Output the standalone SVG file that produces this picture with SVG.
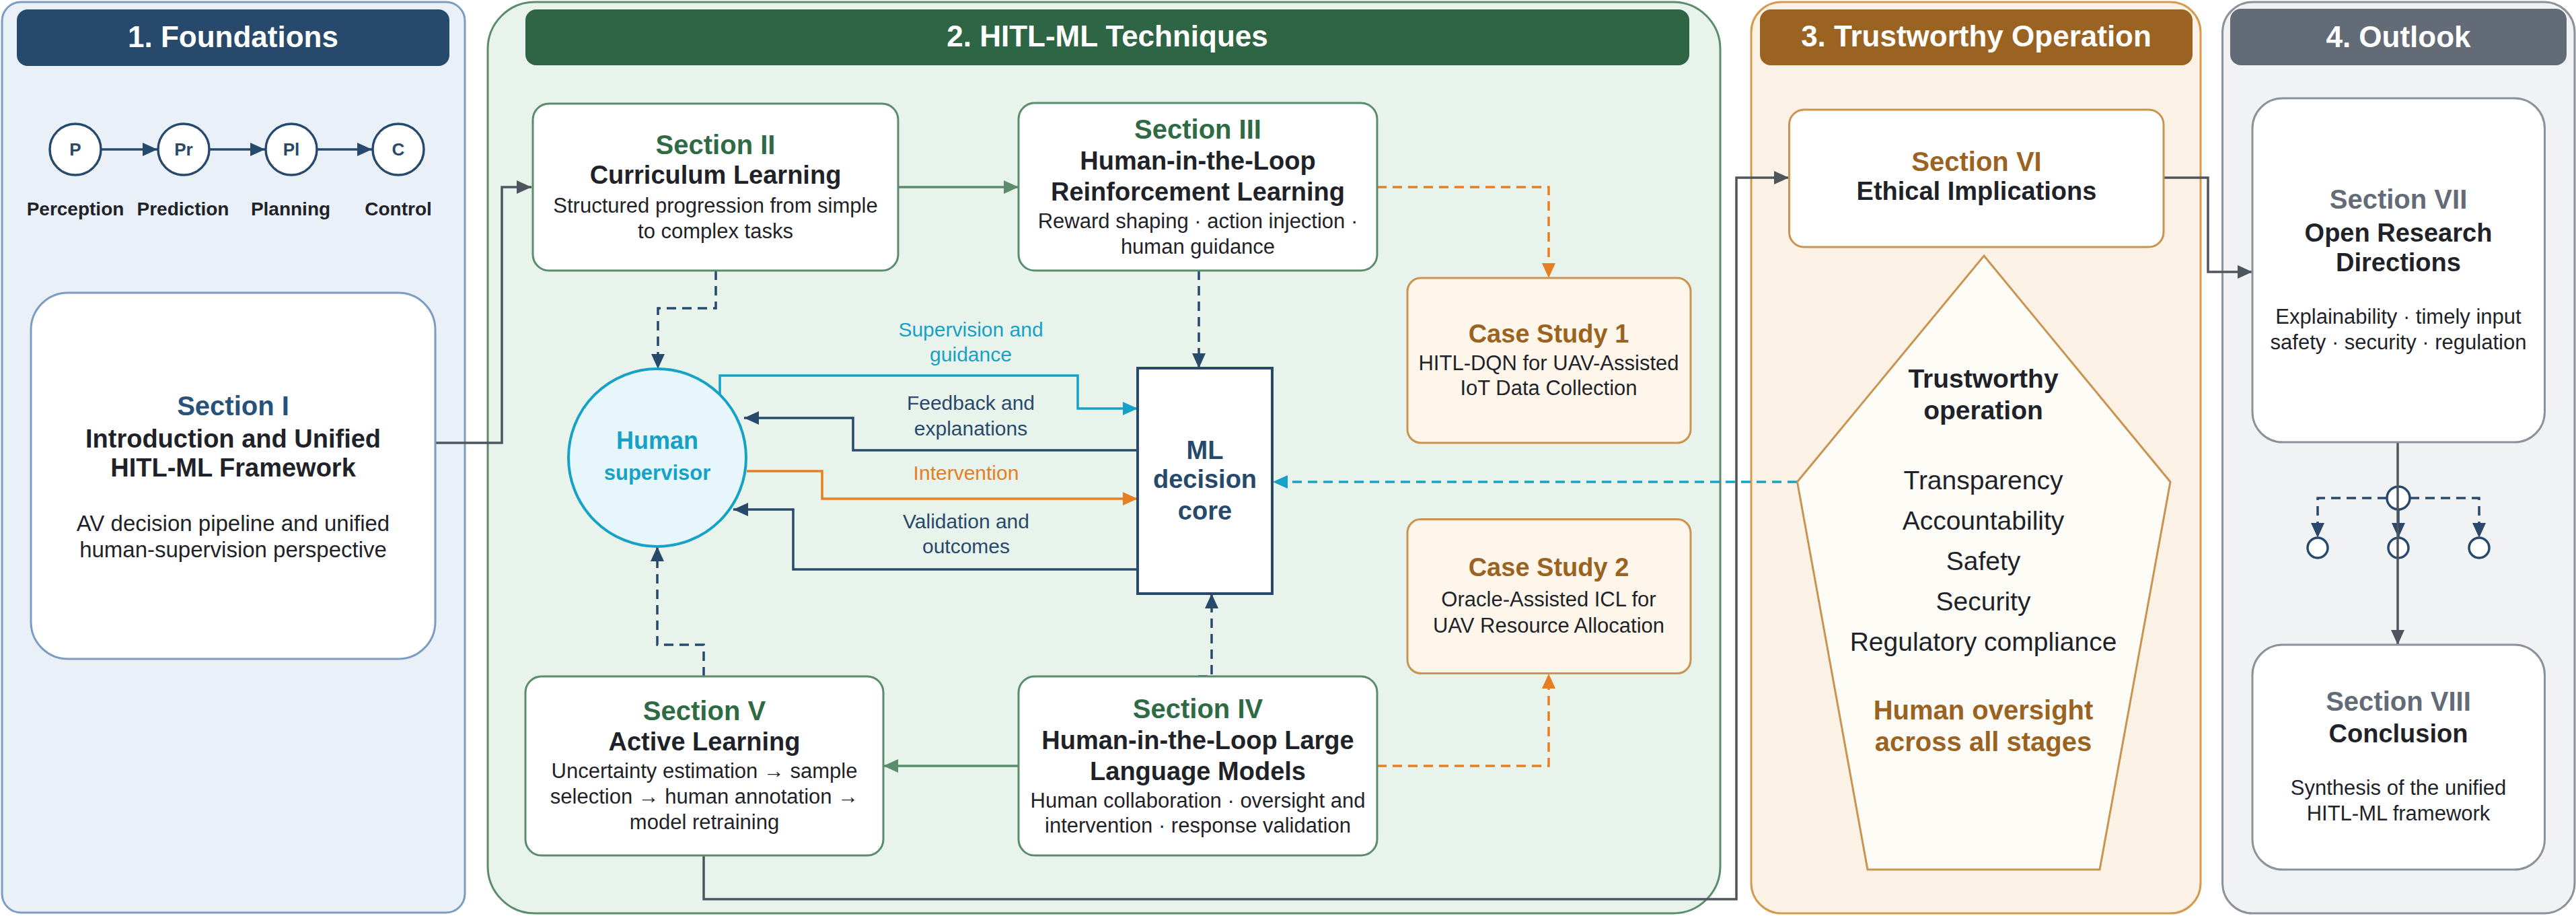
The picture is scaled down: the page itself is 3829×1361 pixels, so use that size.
<svg xmlns="http://www.w3.org/2000/svg" width="3829" height="1361" viewBox="0 0 3829 1361">
<style>
text{font-family:"Liberation Sans",Arial,sans-serif;text-anchor:middle;fill:#1f2329}
.hd{font-size:44px;font-weight:bold;fill:#fff}
.lb{font-size:40px;font-weight:bold}
.tt{font-size:38px;font-weight:bold}
.ds{font-size:31px}
.cl{font-size:30px}
.box{fill:#fff;stroke-width:3}
.g{stroke:#5b8c6c}
.c{fill:none;stroke-width:3.5}
.d{stroke-dasharray:14 9}
</style>
<defs>
<marker id="mNavy" markerUnits="userSpaceOnUse" viewBox="0 0 22 20" markerWidth="22" markerHeight="20" refX="22" refY="10" orient="auto"><path d="M0,0L22,10L0,20z" fill="#27496b"/></marker>
<marker id="mCyan" markerUnits="userSpaceOnUse" viewBox="0 0 22 20" markerWidth="22" markerHeight="20" refX="22" refY="10" orient="auto"><path d="M0,0L22,10L0,20z" fill="#16a1c7"/></marker>
<marker id="mOrange" markerUnits="userSpaceOnUse" viewBox="0 0 22 20" markerWidth="22" markerHeight="20" refX="22" refY="10" orient="auto"><path d="M0,0L22,10L0,20z" fill="#e67e22"/></marker>
<marker id="mGray" markerUnits="userSpaceOnUse" viewBox="0 0 22 20" markerWidth="22" markerHeight="20" refX="22" refY="10" orient="auto"><path d="M0,0L22,10L0,20z" fill="#4f555d"/></marker>
<marker id="mGreen" markerUnits="userSpaceOnUse" viewBox="0 0 22 20" markerWidth="22" markerHeight="20" refX="22" refY="10" orient="auto"><path d="M0,0L22,10L0,20z" fill="#5b8c6c"/></marker>
</defs>

<g id="panel1">
<rect x="3" y="3" width="688" height="1353" rx="28" fill="#e9f0f8" stroke="#7b9cc4" stroke-width="3"/>
<rect x="25" y="14" width="643" height="84" rx="16" fill="#27496b"/>
<text class="hd" x="346.5" y="70">1. Foundations</text>
</g>
<g id="panel2">
<rect x="725" y="3" width="1832" height="1354" rx="70" fill="#e8f3ec" stroke="#5b8c6c" stroke-width="3"/>
<rect x="781" y="14" width="1730" height="83" rx="16" fill="#2e6645"/>
<text class="hd" x="1646" y="69">2. HITL-ML Techniques</text>
</g>
<g id="panel3">
<rect x="2603" y="3" width="668" height="1354" rx="45" fill="#fbf1e4" stroke="#d49b4f" stroke-width="3"/>
<rect x="2616" y="14" width="643" height="83" rx="16" fill="#9a6321"/>
<text class="hd" x="2937.5" y="69">3. Trustworthy Operation</text>
</g>
<g id="panel4">
<rect x="3303.5" y="3" width="523.5" height="1354" rx="45" fill="#f1f2f4" stroke="#8c929b" stroke-width="3"/>
<rect x="3315" y="13" width="500" height="84" rx="16" fill="#636b77"/>
<text class="hd" x="3565" y="70">4. Outlook</text>
</g>

<g id="pipeline">
<g fill="#fff" stroke="#27496b" stroke-width="3.5">
<circle cx="112" cy="222" r="38"/><circle cx="273" cy="222" r="38"/><circle cx="433" cy="222" r="38"/><circle cx="592" cy="222" r="38"/>
</g>
<g stroke="#27496b" stroke-width="3.5" fill="none">
<path d="M151,222H234" marker-end="url(#mNavy)"/>
<path d="M312,222H394" marker-end="url(#mNavy)"/>
<path d="M472,222H553" marker-end="url(#mNavy)"/>
</g>
<g font-size="26" font-weight="bold">
<text x="112" y="231" style="fill:#27496b">P</text>
<text x="273" y="231" style="fill:#27496b">Pr</text>
<text x="433" y="231" style="fill:#27496b">Pl</text>
<text x="592" y="231" style="fill:#27496b">C</text>
</g>
<g font-size="28" font-weight="bold">
<text x="112" y="320">Perception</text>
<text x="272" y="320">Prediction</text>
<text x="432" y="320">Planning</text>
<text x="592" y="320">Control</text>
</g>
</g>

<g id="connectors">
<path class="c" stroke="#4f555d" d="M647,658H746V278H790" marker-end="url(#mGray)"/>
<path class="c" stroke="#5b8c6c" d="M1335,278H1514" marker-end="url(#mGreen)"/>
<path class="c d" stroke="#e67e22" d="M2047,278H2302V413" marker-end="url(#mOrange)"/>
<path class="c d" stroke="#27496b" d="M1782,402V547" marker-end="url(#mNavy)"/>
<path class="c d" stroke="#27496b" d="M1064,402V458H978V548" marker-end="url(#mNavy)"/>
<path class="c" stroke="#16a1c7" d="M1070,586V558H1602V607H1691" marker-end="url(#mCyan)"/>
<path class="c" stroke="#27496b" d="M1691,669H1268V621H1106" marker-end="url(#mNavy)"/>
<path class="c" stroke="#e67e22" d="M1110,700H1222V741H1691" marker-end="url(#mOrange)"/>
<path class="c" stroke="#27496b" d="M1691,846H1179V757H1090" marker-end="url(#mNavy)"/>
<path class="c d" stroke="#27496b" d="M1046,1005V958H977V812" marker-end="url(#mNavy)"/>
<path class="c" stroke="#5b8c6c" d="M1514,1138H1313" marker-end="url(#mGreen)"/>
<path class="c d" stroke="#27496b" d="M1781,1005H1801V882" marker-end="url(#mNavy)"/>
<path class="c d" stroke="#e67e22" d="M2047,1138H2302V1001" marker-end="url(#mOrange)"/>
<path class="c d" stroke="#16a1c7" d="M2671,716H1892" marker-end="url(#mCyan)"/>
<path class="c" stroke="#4f555d" d="M1046,1271V1336H2581V264H2659" marker-end="url(#mGray)"/>
<path class="c" stroke="#4f555d" d="M3216,264H3282V404H3348" marker-end="url(#mGray)"/>
<g id="branch-icon">
<circle cx="3565" cy="740" r="17" fill="#fff" stroke="#27496b" stroke-width="3.5"/>
<circle cx="3445" cy="814" r="15" fill="#fff" stroke="#27496b" stroke-width="3.5"/>
<circle cx="3565" cy="814" r="15" fill="#fff" stroke="#27496b" stroke-width="3.5"/>
<circle cx="3685" cy="814" r="15" fill="#fff" stroke="#27496b" stroke-width="3.5"/>
<path class="c d" stroke="#27496b" d="M3548,740H3445V799" marker-end="url(#mNavy)"/>
<path class="c d" stroke="#27496b" d="M3582,740H3685V799" marker-end="url(#mNavy)"/>
<path class="c" stroke="#27496b" d="M3565,757V799" marker-end="url(#mNavy)"/>
</g>
<path class="c" stroke="#4f555d" d="M3564,657V958" marker-end="url(#mGray)"/>
<g class="cl">
<text x="1443" y="500" style="fill:#16a1c7">Supervision and</text>
<text x="1443" y="537" style="fill:#16a1c7">guidance</text>
<text x="1443" y="609" style="fill:#27496b">Feedback and</text>
<text x="1443" y="647" style="fill:#27496b">explanations</text>
<text x="1436" y="713" style="fill:#e67e22">Intervention</text>
<text x="1436" y="785" style="fill:#27496b">Validation and</text>
<text x="1436" y="822" style="fill:#27496b">outcomes</text>
</g>
</g>

<g id="section1">
<rect class="box" x="46" y="435" width="601" height="544" rx="55" stroke="#7b9cc4"/>
<text class="lb" x="346.5" y="617" style="fill:#27527a">Section I</text>
<text class="tt" x="346.5" y="665">Introduction and Unified</text>
<text class="tt" x="346.5" y="708">HITL-ML Framework</text>
<text x="346.5" y="789" font-size="33">AV decision pipeline and unified</text>
<text x="346.5" y="828" font-size="33">human-supervision perspective</text>
</g>
<g id="section2">
<rect class="box g" x="792" y="154" width="543" height="248" rx="24"/>
<text class="lb" x="1063.5" y="229" style="fill:#2e6b45">Section II</text>
<text class="tt" x="1063.5" y="273">Curriculum Learning</text>
<text class="ds" x="1063.5" y="316">Structured progression from simple</text>
<text class="ds" x="1063.5" y="354">to complex tasks</text>
</g>
<g id="section3">
<rect class="box g" x="1514" y="153" width="533" height="249" rx="24"/>
<text class="lb" x="1780.5" y="206" style="fill:#2e6b45">Section III</text>
<text class="tt" x="1780.5" y="252">Human-in-the-Loop</text>
<text class="tt" x="1780.5" y="298">Reinforcement Learning</text>
<text class="ds" x="1780.5" y="339">Reward shaping · action injection ·</text>
<text class="ds" x="1780.5" y="377">human guidance</text>
</g>
<g id="case1">
<rect x="2092" y="413" width="421" height="245" rx="20" fill="#fef6ea" stroke="#c99350" stroke-width="3"/>
<text class="tt" x="2302" y="509" style="fill:#9a6321">Case Study 1</text>
<text class="ds" x="2302" y="550">HITL-DQN for UAV-Assisted</text>
<text class="ds" x="2302" y="587">IoT Data Collection</text>
</g>
<g id="case2">
<rect x="2092" y="771.5" width="421" height="229" rx="20" fill="#fef6ea" stroke="#c99350" stroke-width="3"/>
<text class="tt" x="2302" y="856" style="fill:#9a6321">Case Study 2</text>
<text class="ds" x="2302" y="901">Oracle-Assisted ICL for</text>
<text class="ds" x="2302" y="940">UAV Resource Allocation</text>
</g>
<g id="human">
<circle cx="977" cy="680" r="132" fill="#e6f6fa" stroke="#16a1c7" stroke-width="4"/>
<text x="977" y="667" font-size="36" font-weight="bold" style="fill:#16a1c7">Human</text>
<text x="977" y="713" font-size="31" font-weight="bold" style="fill:#16a1c7">supervisor</text>
</g>
<g id="mlcore">
<rect x="1691" y="547" width="200" height="335" fill="#fff" stroke="#27496b" stroke-width="4"/>
<text class="tt" x="1791" y="682" style="fill:#27496b">ML</text>
<text class="tt" x="1791" y="725" style="fill:#27496b">decision</text>
<text class="tt" x="1791" y="772" style="fill:#27496b">core</text>
</g>
<g id="section5">
<rect class="box g" x="781" y="1005" width="532" height="266" rx="24"/>
<text class="lb" x="1047" y="1070" style="fill:#2e6b45">Section V</text>
<text class="tt" x="1047" y="1115">Active Learning</text>
<text class="ds" x="1047" y="1156">Uncertainty estimation → sample</text>
<text class="ds" x="1047" y="1194">selection → human annotation →</text>
<text class="ds" x="1047" y="1232">model retraining</text>
</g>
<g id="section4">
<rect class="box g" x="1514" y="1005" width="533" height="266" rx="24"/>
<text class="lb" x="1780.5" y="1067" style="fill:#2e6b45">Section IV</text>
<text class="tt" x="1780.5" y="1113">Human-in-the-Loop Large</text>
<text class="tt" x="1780.5" y="1159">Language Models</text>
<text class="ds" x="1780.5" y="1200">Human collaboration · oversight and</text>
<text class="ds" x="1780.5" y="1237">intervention · response validation</text>
</g>
<g id="section6">
<rect class="box" x="2659.5" y="163" width="556.5" height="204" rx="22" stroke="#c99350"/>
<text class="lb" x="2938" y="254" style="fill:#9a6321">Section VI</text>
<text class="tt" x="2938" y="297">Ethical Implications</text>
</g>
<g id="trustworthy">
<polygon points="2949,380 3226,716 3121,1292 2776,1292 2671.5,716" fill="#fefcf7" stroke="#c99350" stroke-width="3"/>
<text x="2948" y="576" font-size="39" font-weight="bold">Trustworthy</text>
<text x="2948" y="623" font-size="39" font-weight="bold">operation</text>
<g font-size="39">
<text x="2948" y="727">Transparency</text>
<text x="2948" y="787">Accountability</text>
<text x="2948" y="847">Safety</text>
<text x="2948" y="907">Security</text>
<text x="2948" y="967">Regulatory compliance</text>
</g>
<text class="lb" x="2948" y="1069" style="fill:#9a6321">Human oversight</text>
<text class="lb" x="2948" y="1116" style="fill:#9a6321">across all stages</text>
</g>
<g id="section7">
<rect class="box" x="3348" y="146" width="434.5" height="511" rx="45" stroke="#8c929b"/>
<text class="lb" x="3565" y="310" style="fill:#636b77">Section VII</text>
<text class="tt" x="3565" y="359">Open Research</text>
<text class="tt" x="3565" y="403">Directions</text>
<text class="ds" x="3565" y="481">Explainability · timely input</text>
<text class="ds" x="3565" y="519">safety · security · regulation</text>
</g>
<g id="section8">
<rect class="box" x="3348" y="958" width="434.5" height="334" rx="45" stroke="#8c929b"/>
<text class="lb" x="3565" y="1056" style="fill:#636b77">Section VIII</text>
<text class="tt" x="3565" y="1103">Conclusion</text>
<text class="ds" x="3565" y="1181">Synthesis of the unified</text>
<text class="ds" x="3565" y="1219">HITL-ML framework</text>
</g>
</svg>
